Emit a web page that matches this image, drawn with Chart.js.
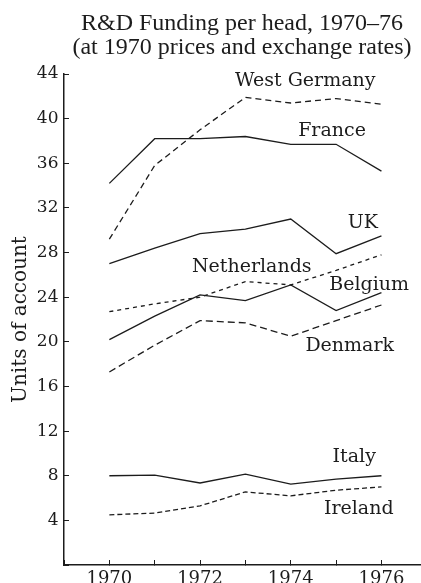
<!DOCTYPE html>
<html>
<head>
<meta charset="utf-8">
<script src="https://cdn.jsdelivr.net/npm/chart.js@4.4.1/dist/chart.umd.min.js"></script>
<style>
  html, body { margin: 0; padding: 0; background: #fff; overflow: hidden; }
  #wrap { width: 421px; height: 595px; }
</style>
</head>
<body>
<div id="wrap"><canvas id="rdChart"></canvas></div>
<script>
// Years on the x axis and the labels that are printed under it
const years = [1970, 1971, 1972, 1973, 1974, 1975, 1976];
const xTickLabels = ['1970', '1972', '1974', '1976'];
const yTickLabels = ['4', '8', '12', '16', '20', '24', '28', '32', '36', '40', '44'];

// R&D funding per head, units of account
const westGermany = [29.2, 35.8, 39.0, 41.9, 41.4, 41.8, 41.3];
const france      = [34.2, 38.2, 38.2, 38.4, 37.7, 37.7, 35.3];
const uk          = [27.0, 28.4, 29.7, 30.1, 31.0, 27.9, 29.5];
const netherlands = [22.7, 23.4, 24.0, 25.4, 25.1, 26.4, 27.8];
const belgium     = [20.2, 22.3, 24.2, 23.7, 25.1, 22.8, 24.4];
const denmark     = [17.3, 19.7, 21.9, 21.7, 20.5, 21.9, 23.3];
const italy       = [8.0, 8.05, 7.35, 8.15, 7.25, 7.7, 8.0];
const ireland     = [4.5, 4.65, 5.3, 6.55, 6.2, 6.7, 7.0];

const ink = '#1c1c1c';

// where each country name sits, in chart units (year, value at text baseline)
const labelSpots = [
    { text: 'West Germany', year: 1974.32, value: 42.9 },
    { text: 'France', year: 1974.91, value: 38.45 },
    { text: 'UK', year: 1975.59, value: 30.2 },
    { text: 'Netherlands', year: 1973.14, value: 26.3 },
    { text: 'Belgium', year: 1975.73, value: 24.65 },
    { text: 'Denmark', year: 1975.3, value: 19.2 },
    { text: 'Italy', year: 1975.4, value: 9.2 },
    { text: 'Ireland', year: 1975.5, value: 4.6 }
];

function toPoints(values) {
    return years.map((yr, i) => ({ x: yr, y: values[i] }));
}

function lineSet(label, values, dash) {
    return {
        label: label,
        data: toPoints(values),
        borderColor: ink,
        borderWidth: 1.3,
        borderDash: dash,
        pointRadius: 0,
        tension: 0,
        fill: false
    };
}

// draws the country names next to their lines
const seriesLabels = {
    id: 'seriesLabels',
    afterDatasetsDraw(chart) {
        const { ctx, scales: { x, y } } = chart;
        ctx.save();
        ctx.font = '19px "DejaVu Serif"';
        ctx.fillStyle = ink;
        ctx.textAlign = 'center';
        ctx.textBaseline = 'alphabetic';
        labelSpots.forEach(s => {
            ctx.fillText(s.text, x.getPixelForValue(s.year), y.getPixelForValue(s.value));
        });
        ctx.restore();
    }
};

const ctx = document.getElementById('rdChart').getContext('2d');
new Chart(ctx, {
    type: 'line',
    data: {
        datasets: [
            lineSet('West Germany', westGermany, [6, 4]),
            lineSet('France', france, []),
            lineSet('UK', uk, []),
            lineSet('Netherlands', netherlands, [4, 4]),
            lineSet('Belgium', belgium, []),
            lineSet('Denmark', denmark, [7, 4]),
            lineSet('Italy', italy, []),
            lineSet('Ireland', ireland, [5, 3])
        ]
    },
    options: {
        responsive: true,
        maintainAspectRatio: false,
        animation: false,
        layout: { padding: { right: 1 } },
        plugins: {
            legend: { display: false },
            tooltip: { enabled: false },
            title: {
                display: true,
                fullSize: false,
                text: ['R&D Funding per head, 1970–76', '(at 1970 prices and exchange rates)'],
                color: ink,
                font: { family: 'Liberation Serif', size: 24, weight: 'normal', lineHeight: 1 },
                padding: { top: 12, bottom: 14 }
            }
        },
        scales: {
            x: {
                type: 'linear',
                min: 1969,
                max: 1976.85,
                afterFit: scale => { scale.height = 30; },
                border: { color: ink, width: 1.5 },
                grid: { drawOnChartArea: false, tickLength: -5, color: ink },
                ticks: {
                    stepSize: 1,
                    autoSkip: false,
                    includeBounds: false,
                    maxRotation: 0,
                    padding: 9,
                    color: ink,
                    font: { family: 'DejaVu Serif', size: 18 },
                    callback: v => xTickLabels.includes(String(v)) ? String(v) : ''
                }
            },
            y: {
                min: 0,
                max: 44,
                afterFit: scale => { scale.width = 64; },
                border: { color: ink, width: 1.5 },
                grid: { drawOnChartArea: false, tickLength: -5, color: ink },
                ticks: {
                    stepSize: 4,
                    padding: 10.5,
                    color: ink,
                    font: { family: 'DejaVu Serif', size: 17 },
                    callback: v => yTickLabels.includes(String(v)) ? String(v) : ''
                },
                title: {
                    display: true,
                    text: 'Units of account',
                    color: ink,
                    font: { family: 'DejaVu Serif', size: 20 },
                    padding: { top: 9, bottom: 0 }
                }
            }
        }
    },
    plugins: [seriesLabels]
});
</script>
</body>
</html>
